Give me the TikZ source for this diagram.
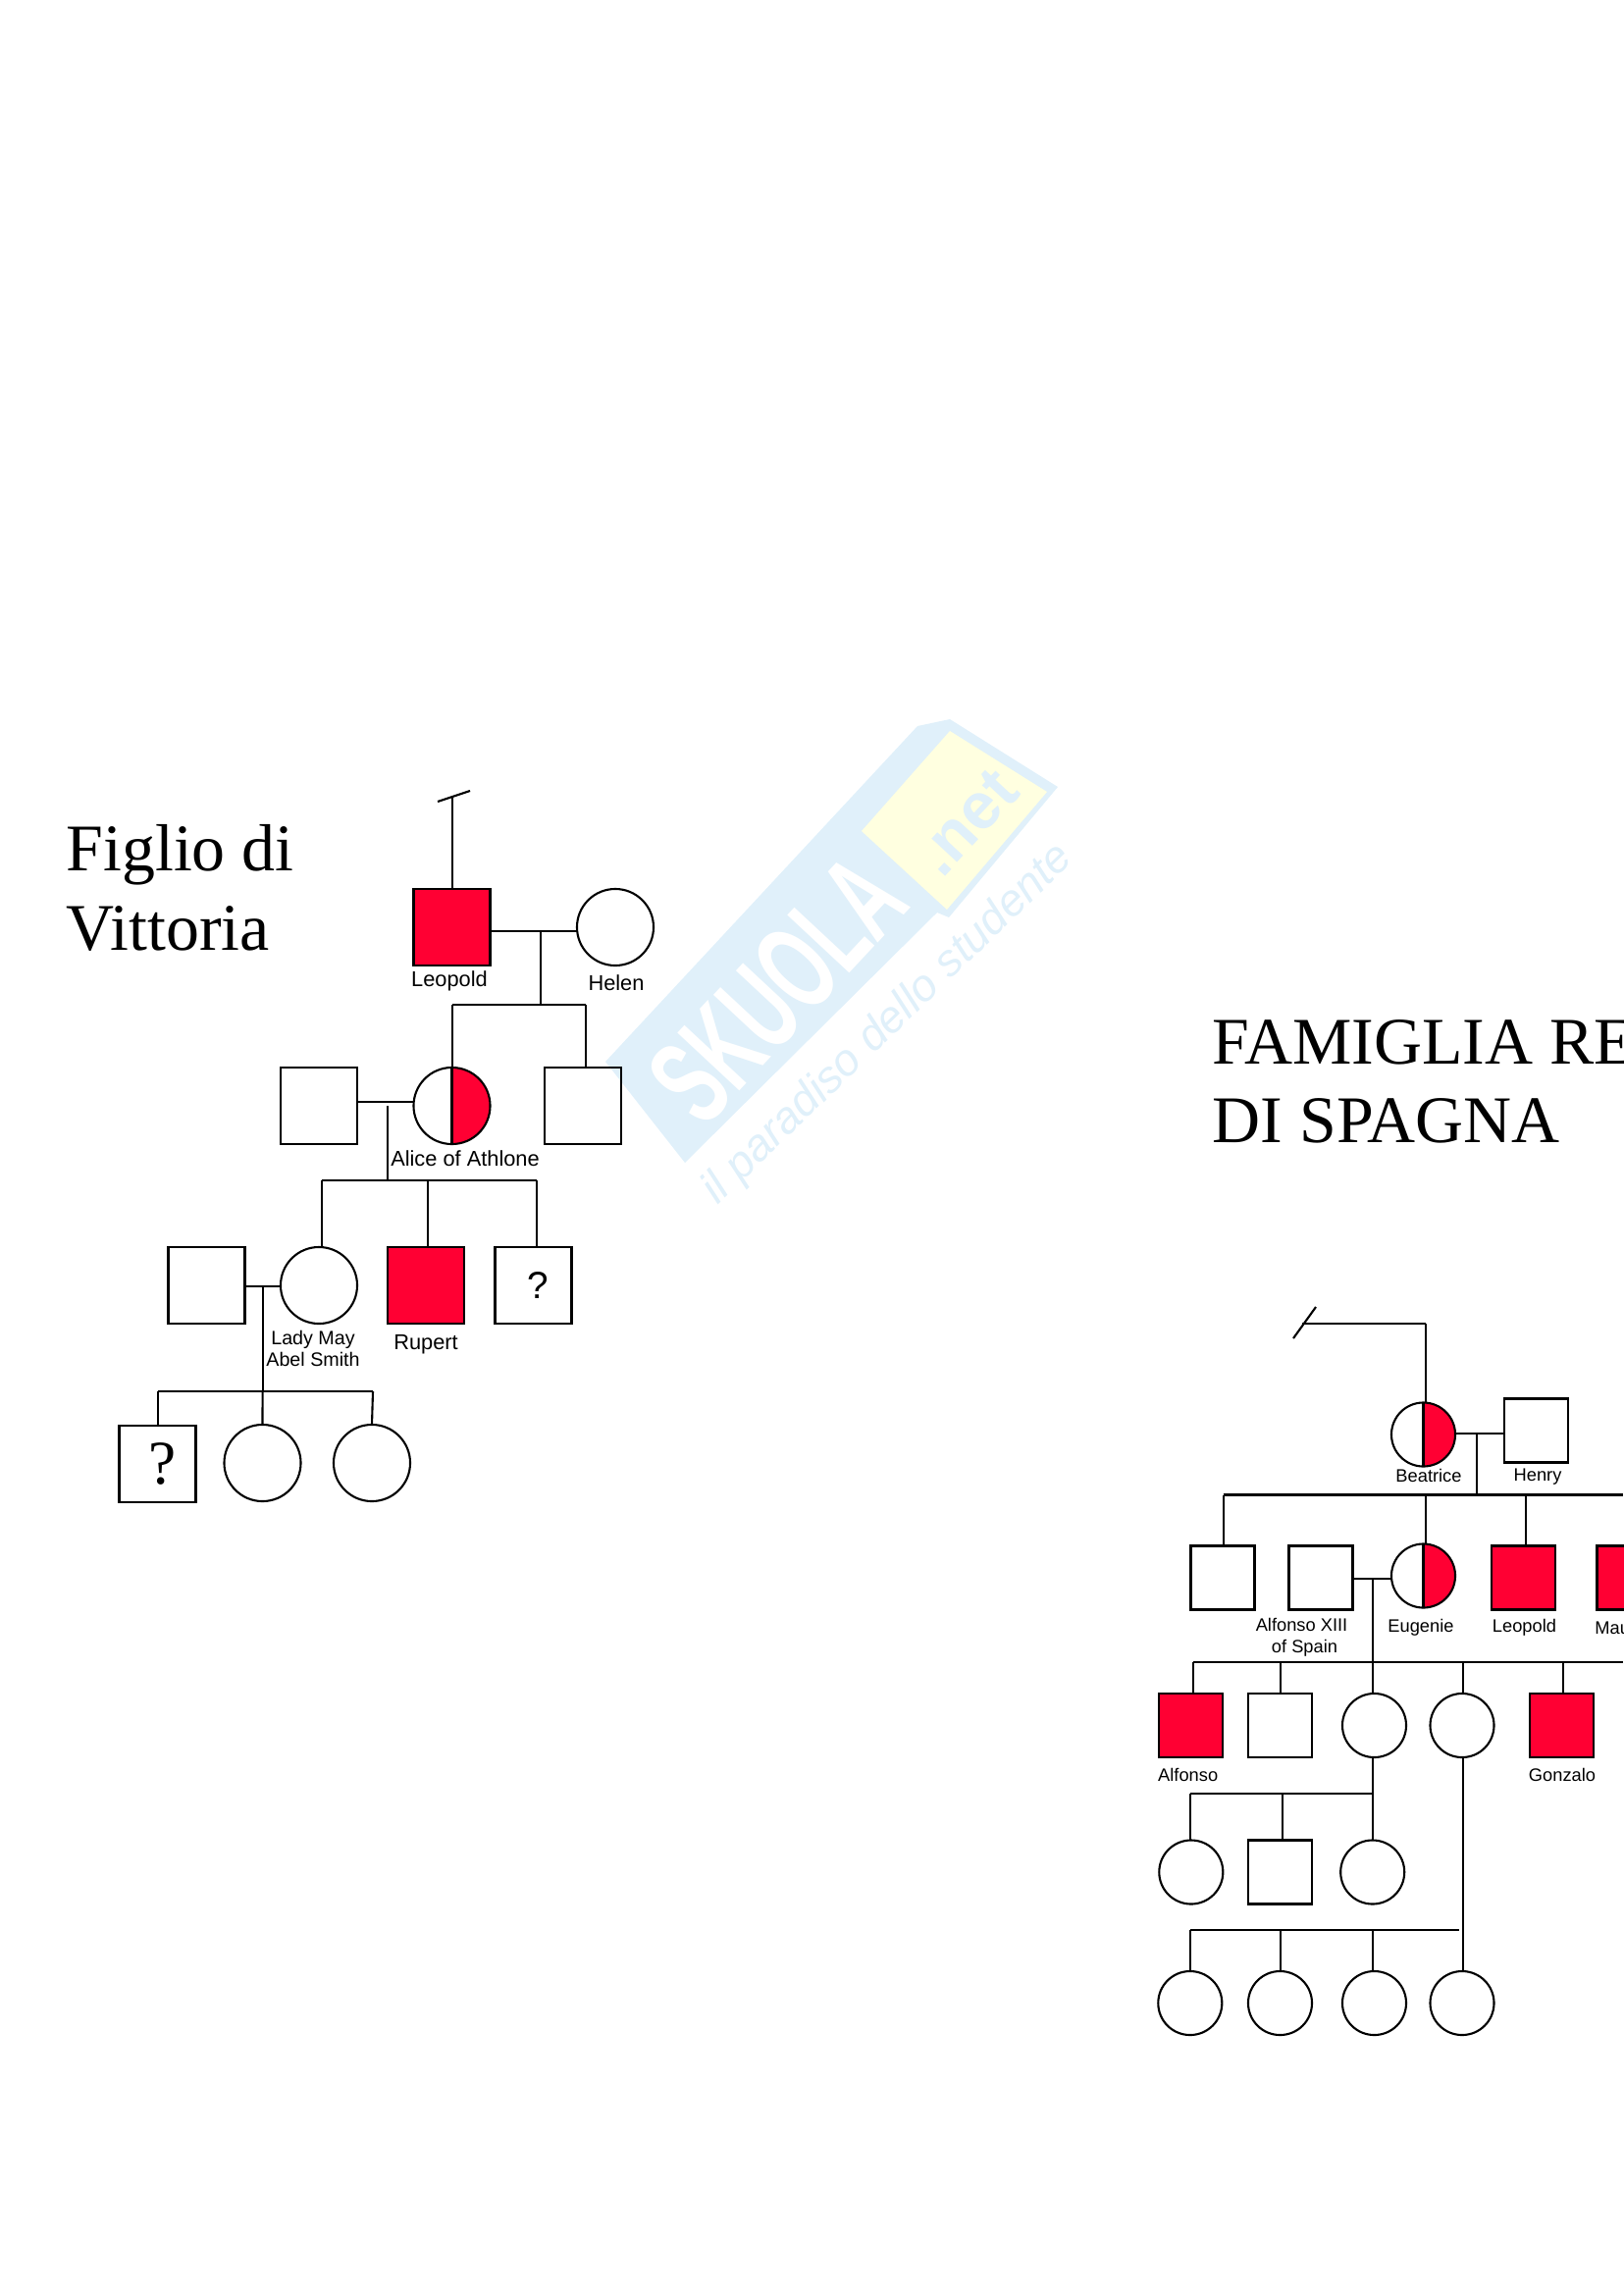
\documentclass[tikz,border=0pt]{standalone}
\usepackage{fontspec}
\setmainfont{Liberation Serif}
\setsansfont{Liberation Sans}
\usepackage{tikz}
\usetikzlibrary{calc}
\definecolor{affected}{HTML}{FF0033}
\definecolor{markblue}{HTML}{E0F0FA}
\definecolor{markyellow}{HTML}{FFFFE0}
\tikzset{
  person/.style={draw=black,line width=0.6pt,inner sep=0pt,outer sep=0pt},
  bigbox/.style={person,rectangle,minimum width=0.78cm,minimum height=0.78cm},
  bigcirc/.style={person,circle,minimum size=0.78cm},
  smallbox/.style={person,rectangle,minimum width=0.65cm,minimum height=0.65cm},
  smallcirc/.style={person,circle,minimum size=0.65cm},
  sick/.style={fill=affected},
  halfsick/.style={path picture={
    \fill[affected] (path picture bounding box.south) rectangle (path picture bounding box.north east);
    \draw[line width=0.9pt] (path picture bounding box.south) -- (path picture bounding box.north);}},
  bigname/.style={font=\sffamily\fontsize{6.2}{6.2}\selectfont,inner sep=0pt},
  midname/.style={font=\sffamily\fontsize{5.6}{5.6}\selectfont,inner sep=0pt},
  smallname/.style={font=\sffamily\fontsize{5.2}{5.2}\selectfont,inner sep=0pt},
  title/.style={font=\fontsize{19.3}{19.3}\selectfont,anchor=base west,inner sep=0pt},
  line/.style={line width=0.6pt}
}
\begin{document}
\begin{tikzpicture}[x=0.01cm,y=-0.01cm]
\useasboundingbox (0,0) rectangle (1654,2339);

% watermark
\fill[markblue] (617,1082) -- (935,740) -- (968,733) -- (1078,802) -- (967,935) -- (955,930) -- (698,1185) -- cycle;
\fill[markyellow] (878,847) -- (968,745) -- (1067,807) -- (965,927) -- cycle;
\node (wmskuola) at (792,1008) [rotate=47,yscale=1.7,text=white,font=\sffamily\bfseries\fontsize{21}{21}\selectfont] {SKUOLA};
\node (wmnet) at (985,838) [rotate=47,text=markblue,font=\sffamily\bfseries\fontsize{19}{19}\selectfont] {.net};
\node (wmtext) at (905,1044) [rotate=44,text=markblue,font=\sffamily\itshape\fontsize{13}{13}\selectfont] {il paradiso dello studente};

% titles
\node (tfiglio) at (67,887) [title] {Figlio di};
\node (tvittoria) at (67,968) [title] {Vittoria};
\node (tfamiglia) at (1235,1084) [title] {FAMIGLIA RE};
\node (tspagna) at (1235,1164) [title] {DI SPAGNA};

% first tree
\coordinate (tick1a) at (446,817);
\coordinate (tick1b) at (479,806);
\coordinate (top1) at (461,812);
\node (leopold) at (460.5,945) [bigbox,sick] {};
\node (helen) at (627,945) [bigcirc] {};
\node (alice) at (460.5,1127) [bigcirc,halfsick] {};
\node (hus1) at (325,1127) [bigbox] {};
\node (bro1) at (594,1127) [bigbox] {};
\node (husmay) at (210.5,1310) [bigbox] {};
\node (may) at (325,1310) [bigcirc] {};
\node (rupert) at (434,1310) [bigbox,sick] {};
\node (q1) at (543.5,1310) [bigbox] {\sffamily\fontsize{11}{11}\selectfont\kern2.6pt ?};
\node (q2) at (160.5,1492) [bigbox] {\fontsize{18}{18}\selectfont\kern2.6pt ?};
\node (gd1) at (267.5,1491) [bigcirc] {};
\node (gd2) at (379,1491) [bigcirc] {};

\node (lleopold) at (458,1000) [bigname] {Leopold};
\node (lhelen) at (628,1002) [bigname] {Helen};
\node (lalice) at (474,1181) [bigname] {Alice of Athlone};
\node (lmay) at (319,1365) [midname] {Lady May};
\node (label) at (319,1385) [midname] {Abel Smith};
\node (lrupert) at (434,1370) [bigname] {Rupert};

\coordinate (m1) at (551,949);
\coordinate (s1a) at (461,1024);
\coordinate (s1m) at (551,1024);
\coordinate (s1b) at (597,1024);
\coordinate (m2) at (394.7,1123);
\coordinate (m2d) at (394.7,1127);
\coordinate (s2a) at (327.7,1203);
\coordinate (s2m) at (394.7,1203);
\coordinate (s2c) at (436,1203);
\coordinate (s2b) at (547,1203);
\coordinate (m3) at (267.6,1311);
\coordinate (s3a) at (161,1418);
\coordinate (s3m) at (267.6,1418);
\coordinate (s3b) at (380,1418);

\draw[line] (tick1a) edge (tick1b);
\draw[line] (top1) edge (top1 |- leopold.north);
\draw[line] (leopold.east |- m1) edge (helen.west |- m1);
\draw[line] (m1) edge (s1m);
\draw[line] (s1a) edge (s1b);
\draw[line] (s1a) edge (s1a |- alice.north);
\draw[line] (s1b) edge (s1b |- bro1.north);
\draw[line] (hus1.east |- m2) edge (alice.west |- m2);
\draw[line] (m2d) edge (s2m);
\draw[line] (s2a) edge (s2b);
\draw[line] (s2a) edge (s2a |- may.north);
\draw[line] (s2c) edge (s2c |- rupert.north);
\draw[line] (s2b) edge (s2b |- q1.north);
\draw[line] (husmay.east |- m3) edge (may.west |- m3);
\draw[line] (m3) edge (s3m);
\draw[line] (s3a) edge (s3b);
\draw[line] (s3a) edge (s3a |- q2.north);
\draw[line] (s3m) edge (gd1.north);
\draw[line] (s3b) edge (gd2.north);

% second tree
\coordinate (tick2a) at (1318,1364);
\coordinate (tick2b) at (1341,1332);
\coordinate (top2a) at (1327,1349);
\coordinate (top2b) at (1452.7,1349);
\node (beatrice) at (1450.5,1462) [smallcirc,halfsick] {};
\node (henry) at (1565.5,1458) [smallbox] {};
\node (son1) at (1246,1608) [smallbox] {};
\node (alfxiii) at (1346,1608) [smallbox] {};
\node (eugenie) at (1450.5,1606) [smallcirc,halfsick] {};
\node (leopold2) at (1552.5,1608) [smallbox,sick] {};
\node (maurice) at (1660,1608) [smallbox,sick] {};
\node (alfonso) at (1213.7,1758.5) [smallbox,sick] {};
\node (son2) at (1304.5,1758.5) [smallbox] {};
\node (dau1) at (1400.5,1758.5) [smallcirc] {};
\node (dau2) at (1490,1758.5) [smallcirc] {};
\node (gonzalo) at (1591.5,1758.5) [smallbox,sick] {};
\node (kid1) at (1213.8,1908) [smallcirc] {};
\node (kid2) at (1304.5,1908) [smallbox] {};
\node (kid3) at (1398.7,1908) [smallcirc] {};
\node (kid4) at (1212.8,2041.5) [smallcirc] {};
\node (kid5) at (1304.5,2041.5) [smallcirc] {};
\node (kid6) at (1400.5,2041.5) [smallcirc] {};
\node (kid7) at (1490,2041.5) [smallcirc] {};

\node (lbeatrice) at (1456,1504) [smallname] {Beatrice};
\node (lhenry) at (1567,1505) [smallname] {Henry};
\node (lalfxiii) at (1326.5,1656) [smallname] {Alfonso XIII};
\node (lspain) at (1329.5,1680) [smallname] {of Spain};
\node (leugenie) at (1448,1659) [smallname] {Eugenie};
\node (lleopold2) at (1553.5,1659) [smallname] {Leopold};
\node (lmaurice) at (1624.7,1659) [smallname,anchor=west] {Mau};
\node (lalfonso) at (1210.7,1809) [smallname] {Alfonso};
\node (lgonzalo) at (1592,1809) [smallname] {Gonzalo};

\coordinate (m4) at (1505,1461);
\coordinate (s4a) at (1246.7,1523.5);
\coordinate (s4e) at (1452.7,1523.5);
\coordinate (s4m) at (1505,1523.5);
\coordinate (s4l) at (1555,1523.5);
\coordinate (s4b) at (1654,1523.5);
\coordinate (m5) at (1399,1608.7);
\coordinate (s5a) at (1216,1694.4);
\coordinate (s5s) at (1305,1694.4);
\coordinate (s5m) at (1399,1694.4);
\coordinate (s5d) at (1491,1694.4);
\coordinate (s5g) at (1593,1694.4);
\coordinate (s5b) at (1654,1694.4);
\coordinate (s6a) at (1213.3,1828);
\coordinate (s6s) at (1307,1828);
\coordinate (s6b) at (1399,1828);
\coordinate (s7a) at (1213,1967.3);
\coordinate (s7s) at (1305,1967.3);
\coordinate (s7c) at (1399,1967.3);
\coordinate (s7b) at (1486.7,1967.3);

\draw[line] (tick2a) edge (tick2b);
\draw[line] (top2a) edge (top2b);
\draw[line] (top2b) edge (top2b |- beatrice.north);
\draw[line] (beatrice.east |- m4) edge (henry.west |- m4);
\draw[line] (m4) edge (s4m);
\draw[line] (s4a) edge (s4b);
\draw[line] (s4a) edge (s4a |- son1.north);
\draw[line] (s4e) edge (s4e |- eugenie.north);
\draw[line] (s4l) edge (s4l |- leopold2.north);
\draw[line] (alfxiii.east |- m5) edge (eugenie.west |- m5);
\draw[line] (m5) edge (s5m);
\draw[line] (s5a) edge (s5b);
\draw[line] (s5a) edge (s5a |- alfonso.north);
\draw[line] (s5s) edge (s5s |- son2.north);
\draw[line] (s5m) edge (s5m |- dau1.north);
\draw[line] (s5d) edge (s5d |- dau2.north);
\draw[line] (s5g) edge (s5g |- gonzalo.north);
\draw[line] (s6b |- dau1.south) edge (s6b |- kid3.north);
\draw[line] (s6a) edge (s6b);
\draw[line] (s6a) edge (s6a |- kid1.north);
\draw[line] (s6s) edge (s6s |- kid2.north);
\draw[line] (s5d |- dau2.south) edge (s5d |- kid7.north);
\draw[line] (s7a) edge (s7b);
\draw[line] (s7a) edge (s7a |- kid4.north);
\draw[line] (s7s) edge (s7s |- kid5.north);
\draw[line] (s7c) edge (s7c |- kid6.north);
\end{tikzpicture}
\end{document}
